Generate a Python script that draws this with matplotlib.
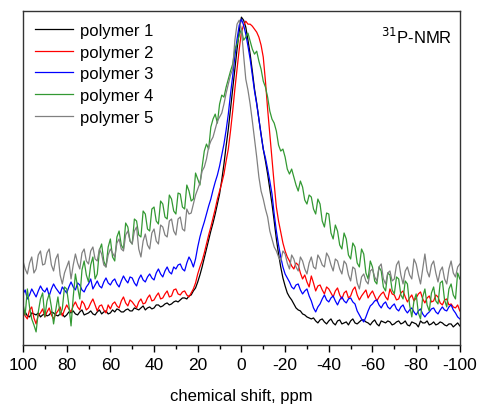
import numpy as np
import matplotlib
matplotlib.use('Agg')
import matplotlib.pyplot as plt
from matplotlib.ticker import MultipleLocator

plt.rcParams['font.family'] = ['Liberation Sans', 'DejaVu Sans']
plt.rcParams['axes.unicode_minus'] = False

# chemical shift axis, 100 ppm down to -100 ppm in 1 ppm steps
shift = np.arange(100, -101, -1)

# intensities (arbitrary units)
polymer1 = [31, 33, 29, 28, 32, 31, 30, 32, 28, 30, 31, 29, 30, 33, 32, 30, 29, 31, 31, 28,
            30, 33, 32, 34, 31, 30, 33, 35, 30, 31, 32, 34, 31, 30, 33, 35, 31, 33, 34, 31,
            32, 35, 33, 36, 35, 33, 33, 35, 36, 34, 34, 37, 36, 35, 37, 39, 35, 37, 38, 36,
            37, 40, 40, 38, 39, 41, 42, 40, 41, 43, 44, 43, 45, 47, 47, 46, 49, 50, 54, 57,
            63, 70, 78, 87, 96, 105, 114, 122, 131, 141, 151, 165, 181, 199, 216, 236, 256, 277, 296, 314,
            328, 325, 318, 305, 291, 274, 256, 242, 226, 211, 196, 184, 171, 156, 141, 124, 106, 91, 78, 67,
            59, 52, 48, 45, 41, 37, 35, 34, 31, 30, 28, 27, 26, 27, 24, 22, 25, 26, 23, 21,
            24, 26, 22, 20, 24, 25, 21, 22, 23, 20, 24, 26, 22, 21, 23, 25, 25, 23, 22, 20,
            23, 25, 21, 19, 24, 23, 22, 24, 23, 20, 21, 23, 24, 21, 22, 24, 20, 19, 23, 22,
            21, 18, 24, 22, 22, 24, 20, 21, 23, 20, 21, 23, 22, 20, 19, 21, 21, 18, 20, 22,
            19]
polymer2 = [34, 29, 26, 35, 38, 27, 21, 30, 32, 36, 28, 33, 37, 30, 26, 31, 34, 38, 29, 35,
            40, 36, 33, 39, 43, 38, 35, 44, 41, 35, 37, 42, 46, 40, 34, 39, 40, 35, 32, 40,
            36, 41, 43, 39, 37, 44, 48, 42, 39, 45, 43, 40, 37, 43, 46, 41, 42, 47, 50, 44,
            45, 49, 52, 46, 47, 51, 54, 48, 49, 55, 56, 51, 50, 53, 54, 50, 48, 52, 56, 62,
            71, 78, 84, 92, 101, 110, 118, 127, 136, 146, 154, 162, 171, 184, 196, 214, 234, 256, 276, 296,
            313, 320, 324, 321, 321, 319, 316, 313, 308, 300, 288, 264, 236, 211, 186, 161, 138, 124, 113, 102,
            94, 88, 84, 79, 76, 82, 80, 72, 66, 70, 63, 58, 69, 62, 54, 59, 60, 55, 51, 58,
            56, 52, 48, 54, 57, 50, 46, 52, 54, 47, 49, 55, 58, 50, 45, 49, 52, 55, 47, 51,
            54, 49, 44, 48, 51, 53, 48, 45, 56, 51, 50, 45, 46, 52, 54, 48, 43, 47, 50, 44,
            47, 51, 53, 46, 42, 47, 49, 43, 44, 50, 48, 42, 40, 45, 46, 40, 41, 38, 37, 40,
            34]
polymer3 = [51, 55, 46, 50, 56, 52, 48, 54, 59, 55, 53, 57, 49, 56, 61, 57, 54, 51, 58, 55,
            52, 58, 63, 58, 55, 62, 60, 55, 53, 58, 61, 66, 56, 60, 64, 59, 57, 63, 67, 62,
            60, 64, 66, 61, 58, 64, 69, 65, 62, 68, 67, 62, 59, 66, 70, 65, 63, 68, 71, 67,
            65, 72, 76, 71, 68, 74, 78, 73, 71, 78, 76, 80, 81, 76, 74, 82, 88, 84, 78, 86,
            98, 108, 116, 123, 131, 139, 146, 155, 163, 170, 179, 190, 201, 215, 231, 251, 269, 289, 306, 320,
            326, 320, 311, 299, 286, 270, 254, 241, 226, 210, 196, 187, 176, 164, 151, 131, 114, 100, 88, 78,
            71, 67, 63, 58, 56, 60, 61, 55, 51, 54, 56, 49, 44, 37, 33, 38, 41, 46, 50, 45,
            43, 47, 49, 44, 40, 45, 48, 44, 42, 46, 47, 43, 41, 34, 30, 26, 23, 28, 34, 39,
            41, 44, 45, 40, 37, 41, 43, 38, 36, 39, 41, 36, 34, 38, 40, 35, 32, 35, 37, 33,
            30, 34, 36, 31, 28, 31, 33, 36, 37, 33, 31, 35, 38, 35, 34, 38, 40, 35, 32, 28,
            26]
polymer4 = [41, 30, 56, 38, 26, 20, 13, 33, 46, 52, 28, 44, 51, 38, 21, 35, 48, 30, 36, 58,
            56, 40, 19, 48, 71, 58, 46, 75, 84, 70, 63, 80, 88, 66, 71, 95, 101, 84, 78, 98,
            106, 88, 84, 108, 114, 100, 96, 122, 118, 104, 101, 126, 124, 110, 108, 134, 131, 116, 114, 136,
            138, 124, 121, 144, 141, 128, 126, 150, 146, 134, 131, 152, 151, 138, 136, 160, 154, 144, 146, 172,
            166, 160, 178, 194, 201, 196, 218, 226, 231, 222, 241, 250, 248, 258, 266, 274, 281, 296, 301, 310,
            316, 305, 308, 312, 304, 296, 291, 294, 284, 276, 264, 258, 248, 234, 226, 222, 214, 200, 194, 196,
            188, 176, 171, 176, 168, 160, 154, 164, 158, 145, 141, 150, 148, 136, 131, 146, 141, 124, 118, 132,
            131, 112, 106, 120, 114, 100, 96, 112, 106, 90, 86, 102, 98, 82, 78, 96, 91, 72, 66, 84,
            78, 64, 61, 78, 74, 58, 54, 72, 70, 55, 51, 68, 66, 50, 46, 64, 61, 40, 28, 44,
            51, 32, 26, 48, 56, 40, 34, 52, 58, 44, 41, 62, 64, 45, 38, 56, 61, 50, 46, 72,
            66]
polymer5 = [84, 76, 71, 82, 88, 72, 76, 90, 94, 80, 81, 92, 96, 80, 74, 86, 91, 70, 61, 72,
            78, 84, 66, 80, 91, 82, 76, 92, 96, 84, 81, 94, 98, 86, 84, 96, 91, 80, 78, 90,
            96, 92, 88, 102, 106, 96, 94, 110, 114, 104, 101, 114, 118, 96, 88, 104, 111, 100, 96, 112,
            116, 104, 101, 120, 118, 110, 108, 124, 126, 114, 110, 126, 128, 116, 114, 136, 131, 132, 141, 150,
            156, 162, 174, 178, 186, 198, 204, 208, 216, 224, 228, 232, 241, 252, 261, 270, 276, 305, 321, 325,
            316, 290, 266, 255, 241, 224, 206, 188, 168, 154, 146, 136, 128, 114, 106, 98, 94, 88, 84, 94,
            91, 82, 76, 90, 86, 78, 74, 88, 84, 76, 71, 82, 88, 78, 76, 90, 86, 80, 78, 92,
            88, 80, 74, 86, 84, 76, 71, 84, 81, 70, 64, 78, 76, 62, 56, 68, 71, 64, 61, 74,
            76, 68, 64, 78, 81, 66, 61, 72, 74, 64, 66, 80, 84, 70, 61, 74, 78, 70, 66, 86,
            81, 70, 61, 76, 91, 74, 68, 80, 84, 72, 63, 74, 78, 66, 61, 76, 84, 72, 68, 78,
            81]

labels = ['polymer 1', 'polymer 2', 'polymer 3', 'polymer 4', 'polymer 5']
colors = ['#000000', '#ff0000', '#0000ff', '#339933', '#808080']
series = [polymer1, polymer2, polymer3, polymer4, polymer5]

fig = plt.figure(figsize=(4.79, 4.06), dpi=100)
ax = fig.add_axes([0.048, 0.148, 0.912, 0.822])

for y, c, lab in zip(series, colors, labels):
    ax.plot(shift, y, color=c, lw=0.9, label=lab)

ax.set_xlim(100, -100)
ax.set_ylim(0, 334)
ax.xaxis.set_major_locator(MultipleLocator(20))
ax.xaxis.set_minor_locator(MultipleLocator(10))
ax.tick_params(axis='x', which='major', direction='out', length=5, width=1, labelsize=12.5, pad=4)
ax.tick_params(axis='x', which='minor', direction='out', length=3, width=1)
ax.tick_params(axis='y', left=False, labelleft=False)
for sp in ax.spines.values():
    sp.set_linewidth(1)
    sp.set_color('#333333')

ax.set_xlabel('chemical shift, ppm', fontsize=12, labelpad=11)

ax.legend(loc='upper left', frameon=False, fontsize=12, handlelength=2.3,
          labelspacing=0.4, borderaxespad=0.3, handletextpad=0.4)
ax.text(0.982, 0.955, r'$^{31}$P-NMR', transform=ax.transAxes, ha='right', va='top', fontsize=12)

fig.savefig('out.png', dpi=100)
